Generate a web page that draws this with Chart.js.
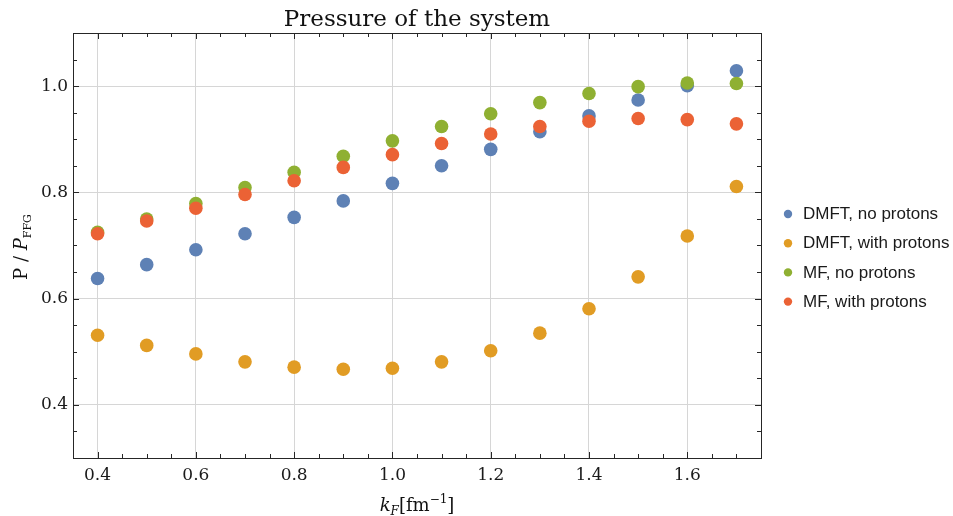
<!DOCTYPE html>
<html>
<head>
<meta charset="utf-8">
<script src="https://cdn.jsdelivr.net/npm/chart.js@4"></script>
<style>
  html, body { margin: 0; padding: 0; background: #ffffff; }
  #wrap { width: 953px; height: 516px; }
</style>
</head>
<body>
<div id="wrap"><canvas id="c" width="953" height="516"></canvas></div>
<script>
// ---- data ----
const kF = [0.4, 0.5, 0.6, 0.7, 0.8, 0.9, 1.0, 1.1, 1.2, 1.3, 1.4, 1.5, 1.6, 1.7];
const dmftNoProtons   = [0.638, 0.664, 0.692, 0.722, 0.753, 0.784, 0.817, 0.850, 0.881, 0.914, 0.944, 0.974, 1.001, 1.029];
const dmftWithProtons = [0.531, 0.512, 0.496, 0.481, 0.471, 0.467, 0.469, 0.481, 0.502, 0.535, 0.581, 0.641, 0.718, 0.811];
const mfNoProtons     = [0.725, 0.750, 0.779, 0.809, 0.838, 0.868, 0.897, 0.924, 0.948, 0.969, 0.986, 0.999, 1.006, 1.005];
const mfWithProtons   = [0.722, 0.746, 0.770, 0.796, 0.822, 0.847, 0.871, 0.892, 0.910, 0.924, 0.934, 0.939, 0.937, 0.929];
const seriesNames = ["DMFT, no protons", "DMFT, with protons", "MF, no protons", "MF, with protons"];
const xTickValues = [0.4, 0.6, 0.8, 1.0, 1.2, 1.4, 1.6];
const yTickValues = [0.4, 0.6, 0.8, 1.0];
const xMinorStep = 0.05;
const yMinorStep = 0.05;
const titleText = "Pressure of the system";

// ---- styles ----
const colors = ["#5E81B5", "#E19C24", "#8FB032", "#EB6235"];
const serif = "'DejaVu Serif', 'Liberation Serif', serif";
const sans = "'Liberation Sans', Arial, sans-serif";

const allSeries = [dmftNoProtons, dmftWithProtons, mfNoProtons, mfWithProtons];
const datasets = allSeries.map((vals, i) => ({
  label: seriesNames[i],
  data: kF.map((x, j) => ({ x: x, y: vals[j] })),
  backgroundColor: colors[i],
  borderColor: colors[i],
  borderWidth: 0,
  pointRadius: 6.8,
  pointHoverRadius: 6.8,
  order: 4 - i
}));

function richText(ctx, parts, x, y, align) {
  let total = 0;
  parts.forEach(p => { ctx.font = p.font; p.w = ctx.measureText(p.t).width; total += p.w; });
  let cx = align === 'center' ? x - total / 2 : x;
  parts.forEach(p => {
    ctx.font = p.font;
    ctx.fillText(p.t, cx, y + (p.dy || 0));
    cx += p.w;
  });
}

const decorPlugin = {
  id: 'decor',
  afterDraw(chart) {
    const ctx = chart.ctx;
    const a = chart.chartArea;
    const xs = chart.scales.x, ys = chart.scales.y;
    ctx.save();
    // frame
    ctx.strokeStyle = '#262626';
    ctx.lineWidth = 1;
    ctx.strokeRect(Math.round(a.left) + 0.5, Math.round(a.top) + 0.5,
                   Math.round(a.right - a.left), Math.round(a.bottom - a.top));
    // ticks (inward, on all four sides)
    const isMajor = (v, arr) => arr.some(m => Math.abs(m - v) < 1e-6);
    ctx.beginPath();
    for (let k = Math.ceil(xs.min / xMinorStep - 1e-6); k * xMinorStep <= xs.max + 1e-9; k++) {
      const v = k * xMinorStep;
      const px = Math.round(xs.getPixelForValue(v)) + 0.5;
      const len = isMajor(v, xTickValues) ? 6 : 4;
      ctx.moveTo(px, a.bottom); ctx.lineTo(px, a.bottom - len);
      ctx.moveTo(px, a.top); ctx.lineTo(px, a.top + len);
    }
    for (let k = Math.ceil(ys.min / yMinorStep - 1e-6); k * yMinorStep <= ys.max + 1e-9; k++) {
      const v = k * yMinorStep;
      const py = Math.round(ys.getPixelForValue(v)) + 0.5;
      const len = isMajor(v, yTickValues) ? 6 : 4;
      ctx.moveTo(a.left, py); ctx.lineTo(a.left + len, py);
      ctx.moveTo(a.right, py); ctx.lineTo(a.right - len, py);
    }
    ctx.stroke();

    // title
    ctx.fillStyle = '#111';
    ctx.textBaseline = 'alphabetic';
    ctx.textAlign = 'left';
    richText(ctx, [{ t: titleText, font: "23px " + serif }], (a.left + a.right) / 2, 26, 'center');

    // x axis label: k_F [fm^-1]
    const xl = (a.left + a.right) / 2;
    richText(ctx, [
      { t: "k", font: "italic 18px " + serif },
      { t: "F", font: "italic 12px " + serif, dy: 4 },
      { t: "[fm", font: "18px " + serif },
      { t: "\u22121", font: "12px " + serif, dy: -8 },
      { t: "]", font: "18px " + serif }
    ], xl, 511, 'center');

    // y axis label: P / P_FFG
    ctx.save();
    ctx.translate(27, 247);
    ctx.rotate(-Math.PI / 2);
    richText(ctx, [
      { t: "P / ", font: "18px " + serif },
      { t: "P", font: "italic 18px " + serif },
      { t: "FFG", font: "11px " + serif, dy: 4 }
    ], 0, 0, 'center');
    ctx.restore();

    // legend
    const ly0 = 214, ldy = 29.2;
    seriesNames.forEach((name, i) => {
      const y = ly0 + i * ldy;
      ctx.fillStyle = colors[i];
      ctx.beginPath();
      ctx.arc(788, y, 4.2, 0, Math.PI * 2);
      ctx.fill();
      ctx.fillStyle = '#1a1a1a';
      ctx.font = "17px " + sans;
      ctx.textBaseline = 'middle';
      ctx.fillText(name, 803, y + 0.5);
    });
    ctx.restore();
  }
};

new Chart(document.getElementById('c'), {
  type: 'scatter',
  data: { datasets: datasets },
  options: {
    responsive: false,
    animation: false,
    events: [],
    layout: { padding: { top: 33, right: 192, left: 0, bottom: 0 } },
    plugins: { legend: { display: false }, tooltip: { enabled: false }, title: { display: false } },
    scales: {
      x: {
        type: 'linear', min: 0.35, max: 1.75,
        afterBuildTicks: s => { s.ticks = xTickValues.map(v => ({ value: v })); },
        afterFit: s => { s.height = 58; },
        grid: { color: '#d6d6d6', lineWidth: 1, drawTicks: false },
        border: { display: false },
        ticks: {
          autoSkip: false, maxRotation: 0, padding: 7, color: '#1a1a1a',
          font: { family: serif, size: 17 },
          callback: v => Number(v).toFixed(1)
        }
      },
      y: {
        type: 'linear', min: 0.3, max: 1.1,
        afterBuildTicks: s => { s.ticks = yTickValues.map(v => ({ value: v })); },
        afterFit: s => { s.width = 73; },
        grid: { color: '#d6d6d6', lineWidth: 1, drawTicks: false },
        border: { display: false },
        ticks: {
          autoSkip: false, padding: 5, color: '#1a1a1a',
          font: { family: serif, size: 17 },
          callback: v => Number(v).toFixed(1)
        }
      }
    }
  },
  plugins: [decorPlugin]
});
</script>
</body>
</html>
